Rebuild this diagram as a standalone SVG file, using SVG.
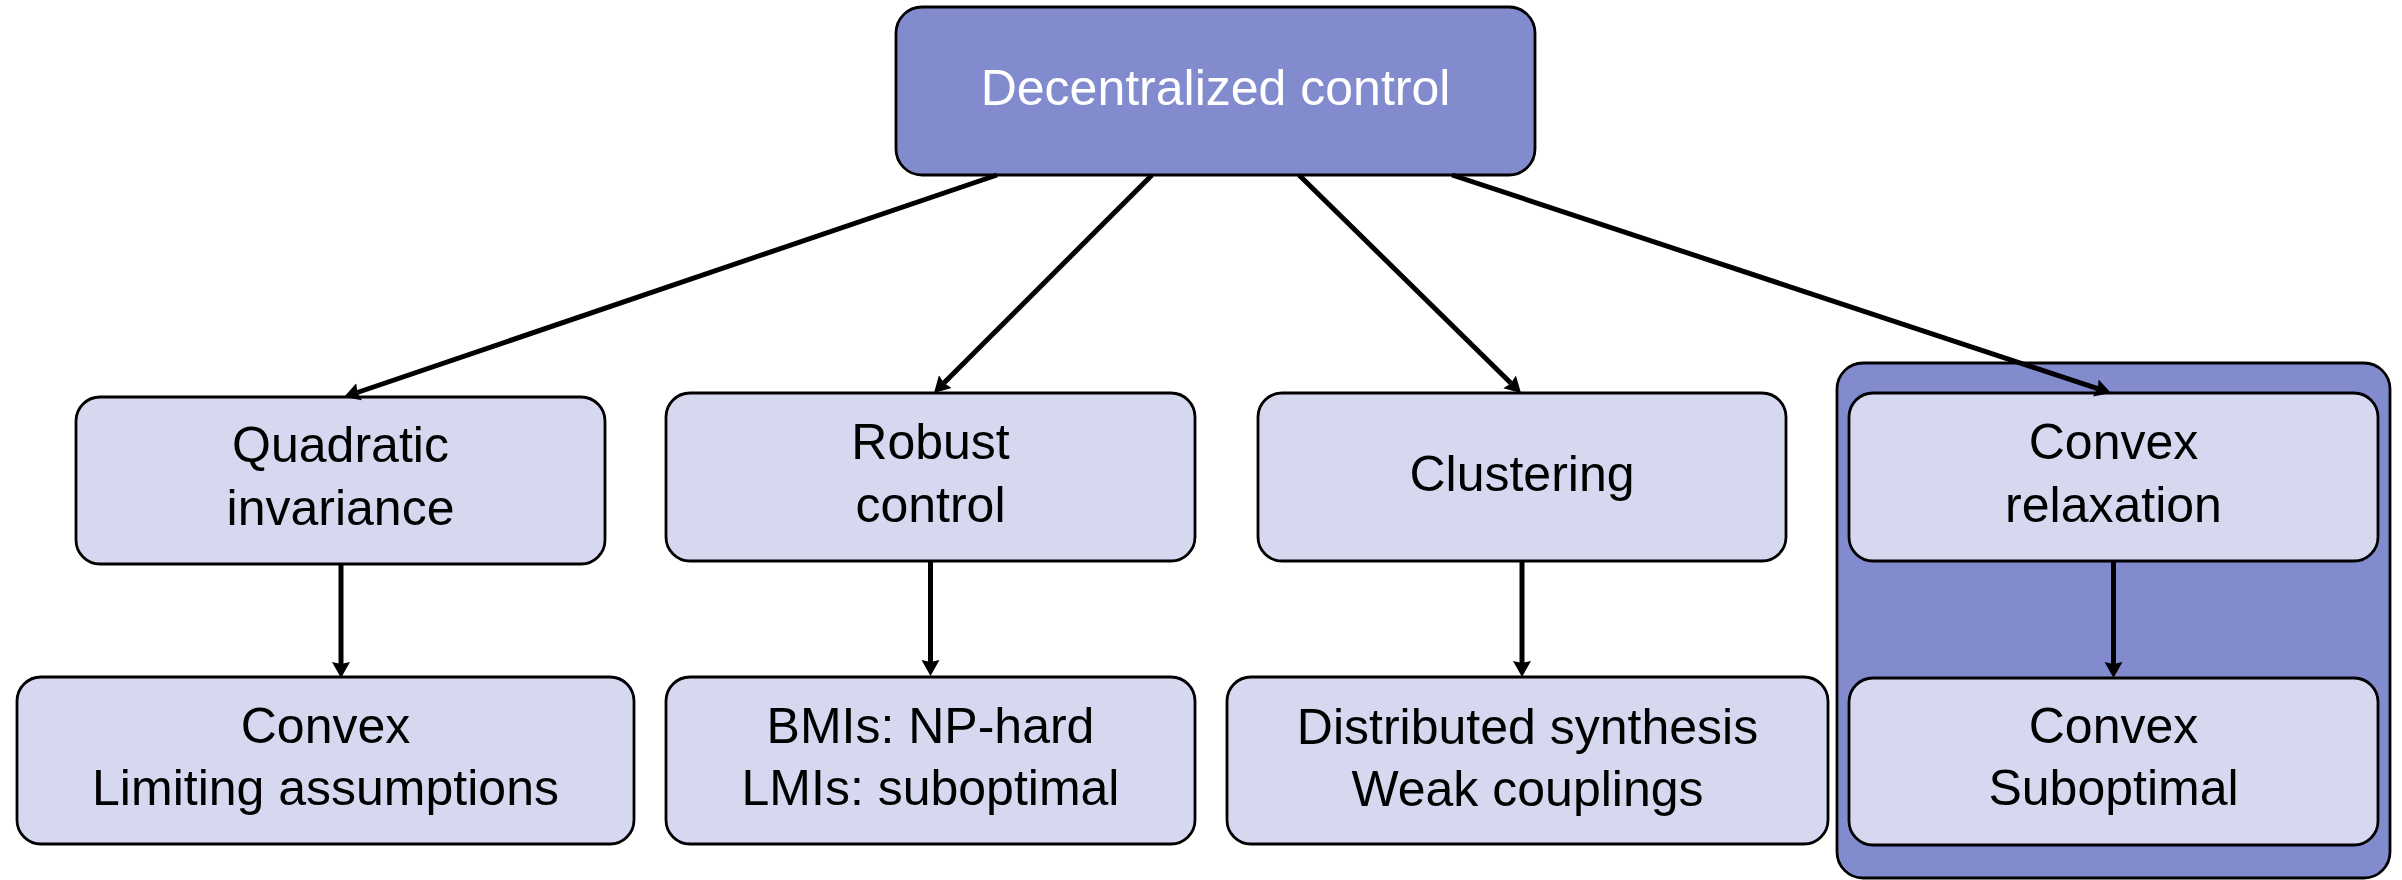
<svg xmlns="http://www.w3.org/2000/svg" width="2402" height="880" viewBox="0 0 2402 880">
<style>
.box{fill:#d6d8f0;stroke:#000;stroke-width:2.8}
.dark{fill:#838bcf;stroke:#000;stroke-width:2.8}
.t{font-family:"Liberation Sans",Arial,sans-serif;font-size:50px;text-anchor:middle;fill:#000}
.w{fill:#fff}
.c{stroke:#000;stroke-width:5;fill:none;marker-end:url(#ah)}
</style>
<defs>
<marker id="ah" markerUnits="userSpaceOnUse" markerWidth="18" markerHeight="20" refX="2" refY="10" orient="auto">
<path d="M0,1 L16,10 L0,19 L2,10 Z" fill="#000"/>
</marker>
</defs>
<rect width="2402" height="880" fill="#fff"/>
<g id="group-convex">
<rect class="dark" x="1837" y="363" width="553" height="515" rx="26"/>
</g>
<g id="n-decentralized">
<rect class="dark" x="896" y="7" width="639" height="168" rx="26"/>
<text class="t w" x="1215.5" y="105">Decentralized control</text>
</g>
<g id="n-quadratic">
<rect class="box" x="76" y="397" width="529" height="167" rx="24"/>
<text class="t" x="340.5" y="462">Quadratic</text>
<text class="t" x="340.5" y="525">invariance</text>
</g>
<g id="n-robust">
<rect class="box" x="666" y="393" width="529" height="168" rx="24"/>
<text class="t" x="930.5" y="459">Robust</text>
<text class="t" x="930.5" y="522">control</text>
</g>
<g id="n-clustering">
<rect class="box" x="1258" y="393" width="528" height="168" rx="24"/>
<text class="t" x="1522" y="491">Clustering</text>
</g>
<g id="n-relaxation">
<rect class="box" x="1849" y="393" width="529" height="168" rx="24"/>
<text class="t" x="2113.5" y="459">Convex</text>
<text class="t" x="2113.5" y="522">relaxation</text>
</g>
<g id="n-limiting">
<rect class="box" x="17" y="677" width="617" height="167" rx="24"/>
<text class="t" x="325.5" y="743">Convex</text>
<text class="t" x="325.5" y="805">Limiting assumptions</text>
</g>
<g id="n-bmis">
<rect class="box" x="666" y="677" width="529" height="167" rx="24"/>
<text class="t" x="930.5" y="743">BMIs: NP-hard</text>
<text class="t" x="930.5" y="805">LMIs: suboptimal</text>
</g>
<g id="n-distributed">
<rect class="box" x="1227" y="677" width="601" height="167" rx="24"/>
<text class="t" x="1527.5" y="744">Distributed synthesis</text>
<text class="t" x="1527.5" y="806">Weak couplings</text>
</g>
<g id="n-suboptimal">
<rect class="box" x="1849" y="678" width="529" height="167" rx="24"/>
<text class="t" x="2113.5" y="743">Convex</text>
<text class="t" x="2113.5" y="805">Suboptimal</text>
</g>
<g id="connectors">
<line class="c" x1="997" y1="175" x2="357.3" y2="392.5"/>
<line class="c" x1="1152" y1="175" x2="943.9" y2="383.1"/>
<line class="c" x1="1299" y1="175" x2="1511" y2="383.2"/>
<line class="c" x1="1452" y1="175" x2="2097.7" y2="388.6"/>
<line class="c" x1="341" y1="564" x2="341" y2="664"/>
<line class="c" x1="930.5" y1="561" x2="930.5" y2="662"/>
<line class="c" x1="1522" y1="561" x2="1522" y2="663"/>
<line class="c" x1="2113.5" y1="561" x2="2113.5" y2="664"/>
</g>
</svg>
